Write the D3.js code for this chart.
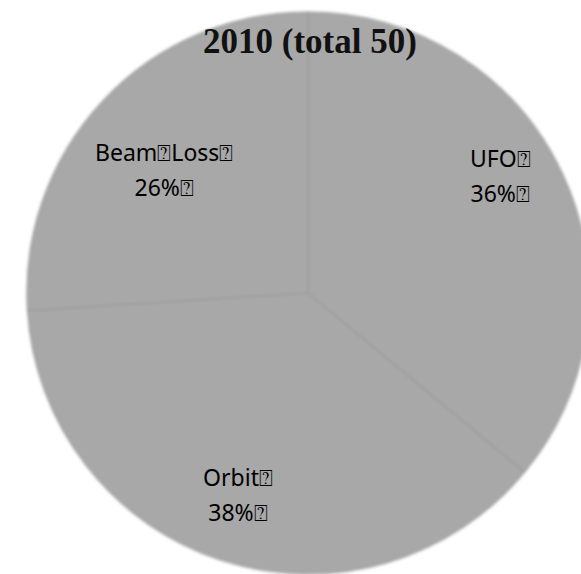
<!DOCTYPE html>
<html>
<head>
<meta charset="utf-8">
<script src="https://cdn.jsdelivr.net/npm/d3@7/dist/d3.min.js"></script>
<style>
  html, body { margin: 0; padding: 0; background: #ffffff; }
  svg { display: block; }
</style>
</head>
<body>
<svg id="chart" width="581" height="574"></svg>
<script>
// Failure causes in 2010, share of 50 events
const categories = ["UFO", "Orbit", "Beam Loss"];
const shares = [36, 38, 26];
const total = 50;
const labelText = ["UFO\u2370", "Orbit\u2370", "Beam\u2370Loss\u2370"];

const W = 581, H = 574;
const cx = 308, cy = 293, R = 281;

// label placement inside each slice: fraction of radius and angle nudge (deg)
const labelLayout = {
  "UFO":       { r: 0.80, da: -6 },
  "Orbit":     { r: 0.765, da: 1 },
  "Beam Loss": { r: 0.67, da: -3 }
};

const svg = d3.select("#chart");

const defs = svg.append("defs");
defs.append("filter").attr("id", "soft")
  .attr("x", "-5%").attr("y", "-5%").attr("width", "110%").attr("height", "110%")
  .append("feGaussianBlur").attr("stdDeviation", 1.4);

const pie = d3.pie().sort(null).value(d => d.value);
const arcs = pie(categories.map((c, i) => ({ name: c, value: shares[i], label: labelText[i] })));
const arc = d3.arc().innerRadius(0).outerRadius(R);

const g = svg.append("g").attr("transform", `translate(${cx},${cy})`);

g.append("g").attr("filter", "url(#soft)")
  .selectAll("path")
  .data(arcs)
  .join("path")
  .attr("d", arc)
  .attr("fill", "#a8a8a8")
  .attr("stroke", "#9a9a9a")
  .attr("stroke-width", 1.2);

// slice labels
const lbl = g.append("g")
  .attr("font-family", "'Noto Sans', 'Open Sans', sans-serif")
  .attr("font-size", 23)
  .attr("fill", "#000")
  .attr("text-anchor", "middle");

arcs.forEach(d => {
  const lay = labelLayout[d.data.name];
  const a = (d.startAngle + d.endAngle) / 2 + lay.da * Math.PI / 180;
  const rr = R * lay.r;
  const x = Math.sin(a) * rr, y = -Math.cos(a) * rr;
  const t = lbl.append("text").attr("x", x).attr("y", y);
  t.append("tspan").attr("x", x).attr("dy", -10).text(d.data.label);
  t.append("tspan").attr("x", x).attr("dy", 35).text(d3.format(".0f")(d.data.value) + "%\u2370");
});

// title
svg.append("text")
  .attr("x", 310).attr("y", 53)
  .attr("text-anchor", "middle")
  .attr("font-family", "'Liberation Serif', 'DejaVu Serif', serif")
  .attr("font-weight", "bold")
  .attr("font-size", 35)
  .attr("fill", "#111")
  .text(`2010 (total ${total})`);
</script>
</body>
</html>
